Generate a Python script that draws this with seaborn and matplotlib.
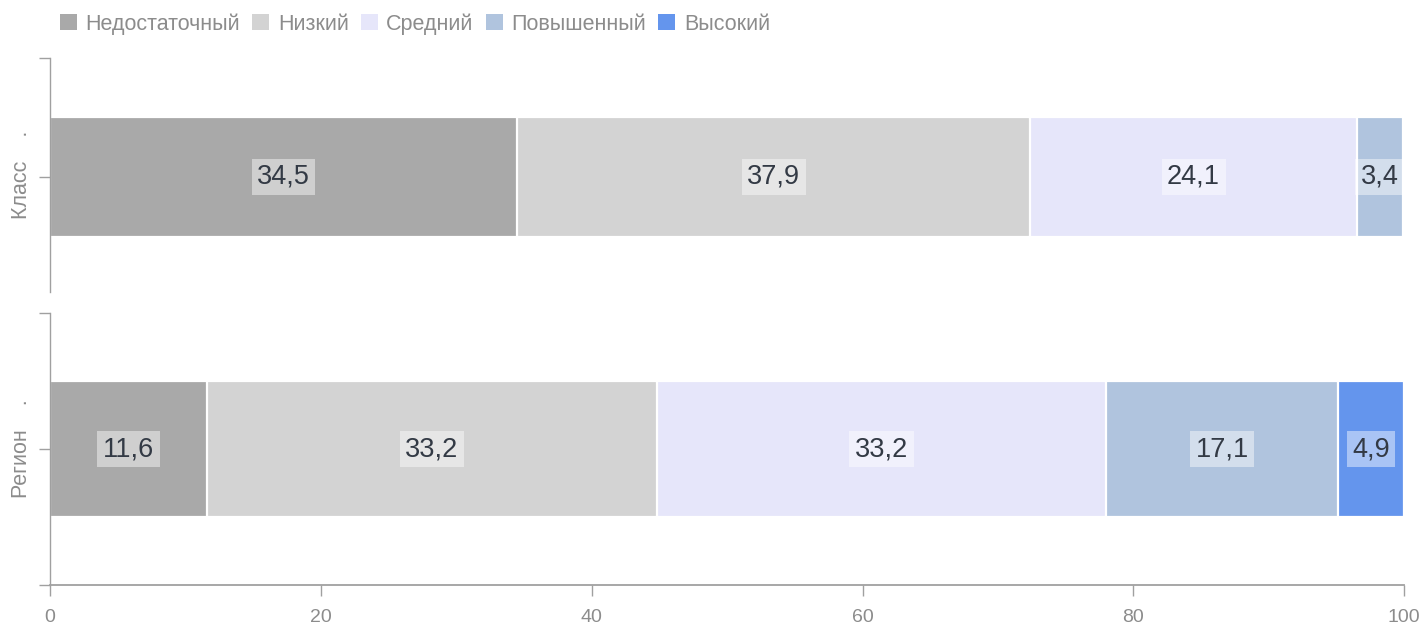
import numpy as np
import pandas as pd
import matplotlib
matplotlib.use("Agg")
import matplotlib.pyplot as plt
import matplotlib.patches as mpatches
import seaborn as sns

groups = ["Класс", "Регион"]
levels = ["Недостаточный", "Низкий", "Средний", "Повышенный", "Высокий"]
klass_vals = [34.5, 37.9, 24.1, 3.4, 0.0]
region_vals = [11.6, 33.2, 33.2, 17.1, 4.9]
colors = ["#A9A9A9", "#D3D3D3", "#E6E6FA", "#B0C4DE", "#6495ED"]
x_ticks = [0, 20, 40, 60, 80, 100]

GREY = "#8c8c8c"
AXIS = "#a0a0a0"
TEXT = "#333a45"

sns.set_style("white")
plt.rcParams["font.family"] = ["Liberation Sans", "DejaVu Sans"]

fig = plt.figure(figsize=(14.24, 6.31), dpi=100)
ax_top = fig.add_axes([0.0351, 0.537, 0.951, 0.371])
ax_bot = fig.add_axes([0.0351, 0.0729, 0.951, 0.431], sharex=ax_top)

data = {"Класс": klass_vals, "Регион": region_vals}
bar_width = {"Класс": 0.513, "Регион": 0.5}

for ax, grp in zip([ax_top, ax_bot], groups):
    df = pd.DataFrame({"level": levels, "value": data[grp], "color": colors})
    df["cum"] = df["value"].cumsum()
    df["start"] = df["cum"] - df["value"]
    # draw cumulative totals from longest to shortest so they stack
    for _, row in df.iloc[::-1].iterrows():
        sns.barplot(x=[row["cum"]], y=[grp], orient="h", color=row["color"],
                    width=bar_width[grp], edgecolor="white", linewidth=1.6,
                    saturation=1, ax=ax)
    for _, row in df.iterrows():
        if row["value"] <= 0:
            continue
        ax.text(row["start"] + row["value"] / 2, 0,
                f"{row['value']:.1f}".replace(".", ","),
                ha="center", va="center", fontsize=19.5, color=TEXT,
                bbox=dict(boxstyle="square,pad=0.2", facecolor="white",
                          edgecolor="none", alpha=0.45))
    ax.set_xlim(0, 100)
    ax.set_ylabel("")
    ax.set_xlabel("")
    ax.text(-0.021, 0.5, grp + "    .", transform=ax.transAxes, rotation=90,
            ha="center", va="center", fontsize=15.5, color=GREY)
    for s in ["top", "right"]:
        ax.spines[s].set_visible(False)
    ax.spines["left"].set_color(AXIS)
    ax.spines["left"].set_linewidth(1)
    ax.tick_params(axis="y", length=8, width=1, color=AXIS, labelleft=False,
                   left=True)

ax_top.set_ylim(0.492, -0.508)
ax_top.set_yticks([-0.508, 0])
ax_top.spines["bottom"].set_visible(False)
ax_top.tick_params(axis="x", bottom=False, labelbottom=False)

ax_bot.set_ylim(0.5, -0.5)
ax_bot.set_yticks([-0.5, 0, 0.5])
ax_bot.spines["bottom"].set_color(AXIS)
ax_bot.spines["bottom"].set_linewidth(1.3)
ax_bot.set_xticks(x_ticks)
ax_bot.set_xticklabels([str(t) for t in x_ticks])
ax_bot.tick_params(axis="x", bottom=True, length=8, width=1, color=AXIS,
                   labelsize=14, labelcolor=GREY, pad=9)

handles = [mpatches.Patch(facecolor=c, edgecolor="none", label=l)
           for c, l in zip(colors, levels)]
fig.legend(handles=handles, loc="upper left", bbox_to_anchor=(0.0283, 1.01),
           ncol=5, frameon=False, fontsize=15.5, labelcolor=GREY,
           handlelength=0.8, handleheight=0.8, handletextpad=0.4,
           columnspacing=0.55)

fig.savefig("out.png", dpi=100, facecolor="white")
